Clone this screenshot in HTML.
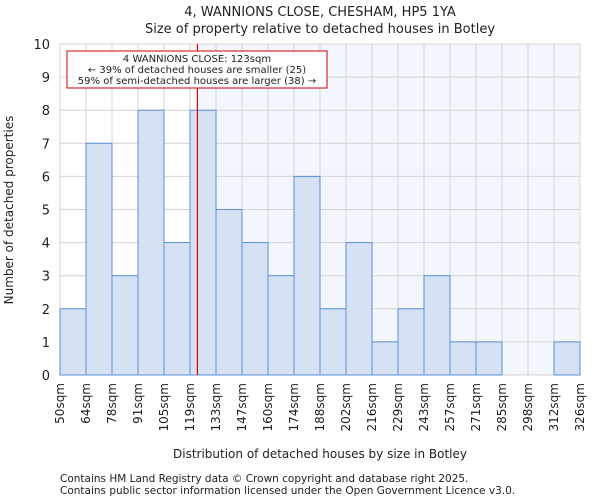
<!DOCTYPE html>
<html><head><meta charset="utf-8"><style>
body{margin:0;background:#fff;font-family:"DejaVu Sans","Liberation Sans",sans-serif}
svg text{font-family:"DejaVu Sans","Liberation Sans",sans-serif;fill:#222}
</style></head><body>
<svg id="chart" width="600" height="500">
<text x="320" y="16" font-size="13" text-anchor="middle">4, WANNIONS CLOSE, CHESHAM, HP5 1YA</text>
<text x="320" y="33" font-size="13" text-anchor="middle">Size of property relative to detached houses in Botley</text>
<g id="plot"></g>
<text x="320" y="458" font-size="12" text-anchor="middle">Distribution of detached houses by size in Botley</text>
<text transform="translate(13,210) rotate(-90)" font-size="12" text-anchor="middle">Number of detached properties</text>
<text x="60" y="482" font-size="10.5">Contains HM Land Registry data © Crown copyright and database right 2025.</text>
<text x="60" y="494" font-size="10.5">Contains public sector information licensed under the Open Government Licence v3.0.</text>
</svg>
<script>
const categories=["50sqm","64sqm","78sqm","91sqm","105sqm","119sqm","133sqm","147sqm","160sqm","174sqm","188sqm","202sqm","216sqm","229sqm","243sqm","257sqm","271sqm","285sqm","298sqm","312sqm","326sqm"];
const counts=[2,7,3,8,4,8,5,4,3,6,2,4,1,2,3,1,1,0,0,1];
const yTicks=[0,1,2,3,4,5,6,7,8,9,10];
const markerValue=123;
const binStarts=[50,64,78,91,105,119,133,147,160,174,188,202,216,229,243,257,271,285,298,312,326];
const NS="http://www.w3.org/2000/svg";
const g=document.getElementById('plot');
const L=60,R=580,T=44,B=375,n=counts.length,bw=(R-L)/n;
const x=i=>L+i*bw;
const y=v=>B-(B-T)*v/10;
function mk(t,a){const e=document.createElementNS(NS,t);for(const k in a)e.setAttribute(k,a[k]);g.appendChild(e);return e;}
let mi=0;for(let i=0;i<n;i++){if(markerValue>=binStarts[i]&&markerValue<binStarts[i+1])mi=i;}
const mx=x(mi)+bw*(markerValue-binStarts[mi])/(binStarts[mi+1]-binStarts[mi]);
let bg=mk('rect',{x:mx,y:T,width:R-mx,height:B-T,fill:'#f3f6fd'});


for(const v of yTicks){
 let l=mk('line',{x1:L,x2:R,y1:y(v),y2:y(v),stroke:'#d4d4d4','stroke-width':1});
 
 
 let t=mk('text',{x:L-10,y:y(v)+5,'font-size':13,'text-anchor':'end'});t.textContent=v;
 
 
}
for(let i=0;i<=n;i++){
 let l=mk('line',{x1:x(i),x2:x(i),y1:T,y2:B,stroke:'#d4d4d4','stroke-width':1});
 
 
}
counts.forEach((c,i)=>{
 if(c<=0)return;
 let r=mk('rect',{x:x(i),y:y(c),width:bw,height:B-y(c),fill:'#d6e2f4',stroke:'#5b8fd6','stroke-width':1});
 
 
});
categories.forEach((c,i)=>{
 let t=mk('text',{transform:`translate(${x(i)+4},${B+8}) rotate(-90)`,'font-size':12,'text-anchor':'end'});t.textContent=c;
 
 
});
let ml=mk('line',{x1:mx,x2:mx,y1:T,y2:B,stroke:'#e00000','stroke-width':1.2});


let box=mk('rect',{x:67,y:51,width:260,height:37,fill:'#fff',stroke:'#cc0000','stroke-width':1});


["4 WANNIONS CLOSE: 123sqm","← 39% of detached houses are smaller (25)","59% of semi-detached houses are larger (38) →"].forEach((s,k)=>{
 let t=mk('text',{x:197,y:62+k*11,'font-size':10,'text-anchor':'middle'});t.textContent=s;
 
 
});
</script>
</body></html>
